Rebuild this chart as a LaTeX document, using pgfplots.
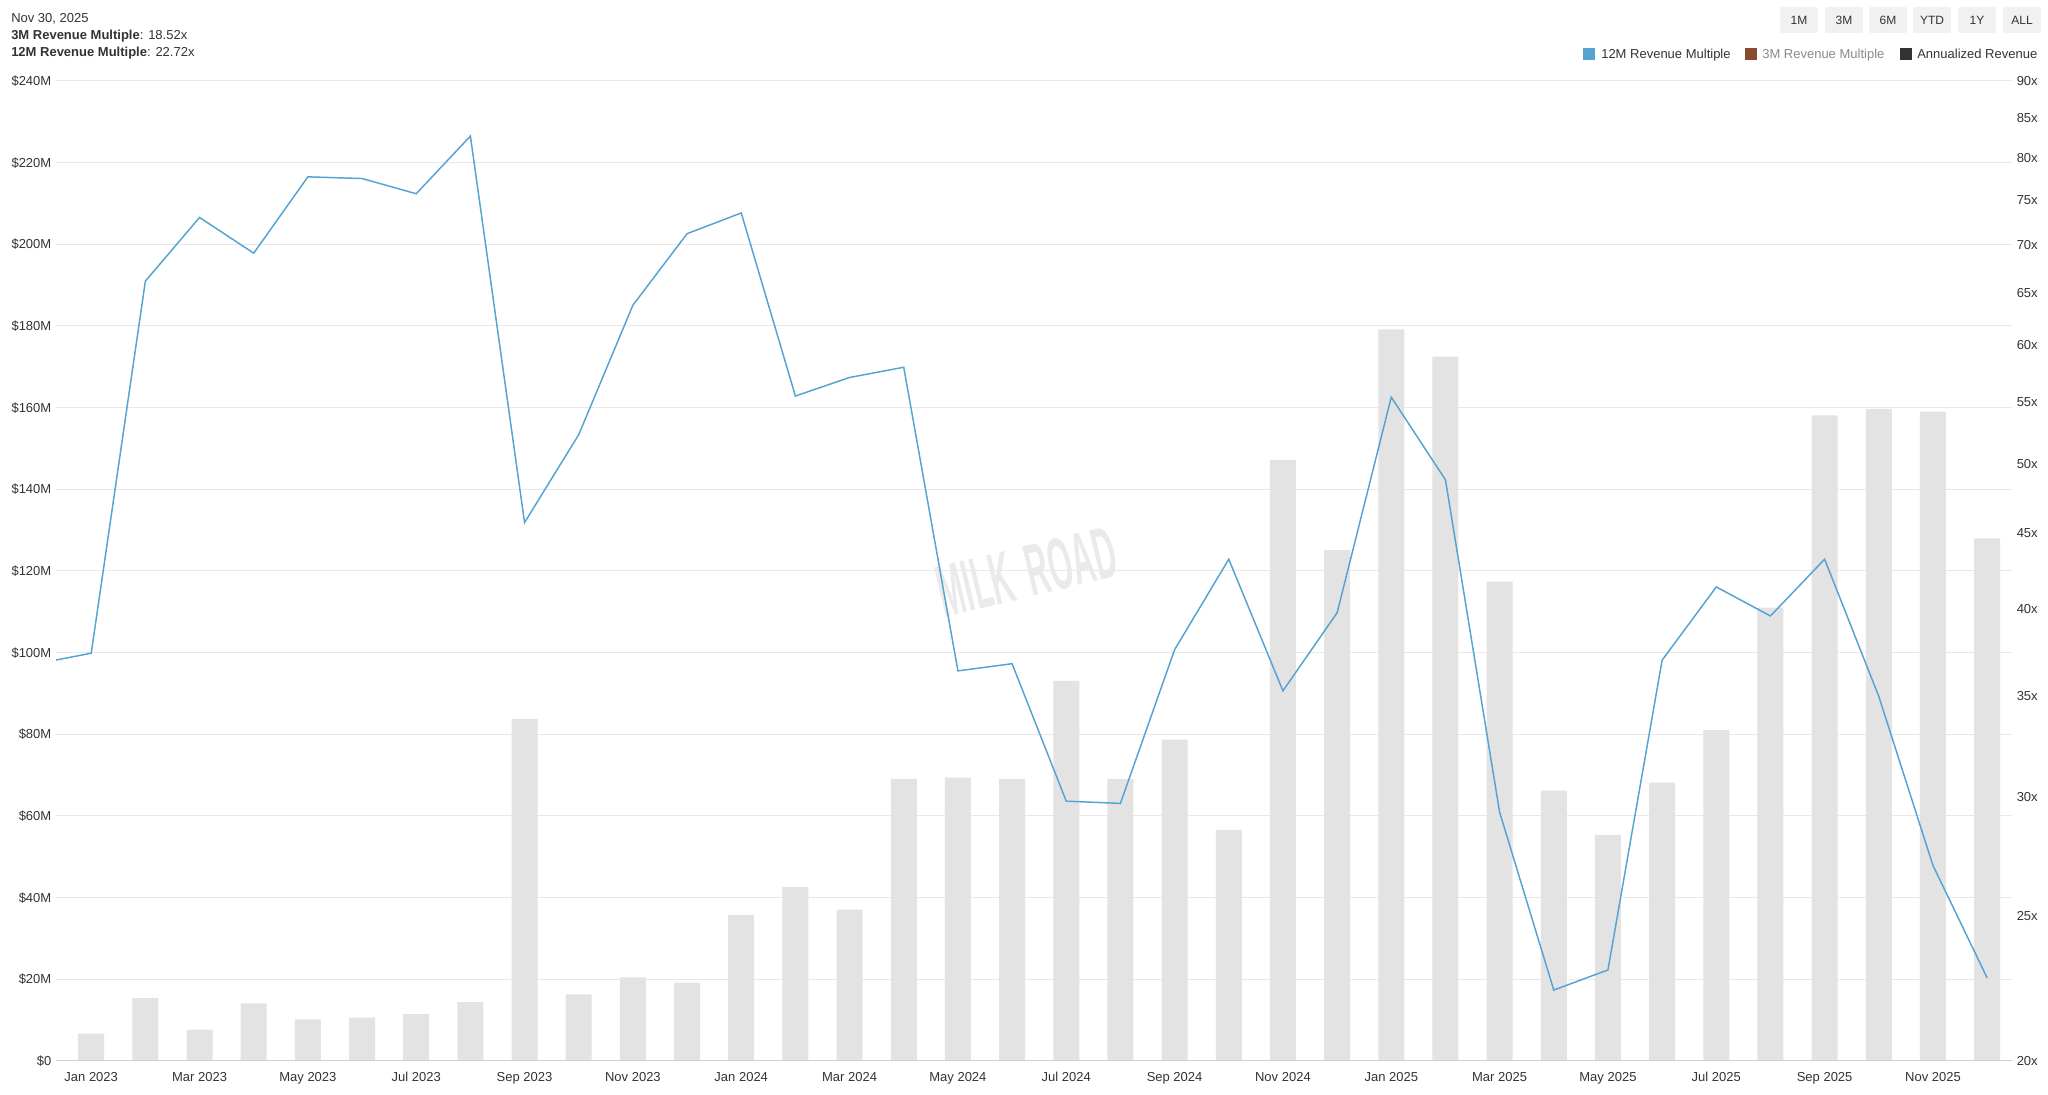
\documentclass[border=0pt]{standalone}
\usepackage{pgfplots}
\pgfplotsset{compat=1.18}
\usepackage{fontspec}
\setmainfont{Liberation Sans}
\definecolor{linecol}{HTML}{55A3D3}
\definecolor{barcol}{HTML}{E3E3E3}
\definecolor{gridcol}{HTML}{E8E8E8}
\definecolor{basecol}{HTML}{D0D0D0}
\definecolor{txt}{HTML}{333333}
\definecolor{btn}{HTML}{F1F1F1}
\definecolor{brownsq}{HTML}{8B4A2F}
\definecolor{darksq}{HTML}{333333}
\definecolor{greytxt}{HTML}{8A8A8A}
\definecolor{wm}{HTML}{EAEAEA}
\newcommand{\fs}{\fontsize{9.75}{11.7}\selectfont}
\begin{document}
\begin{tikzpicture}
\begin{scope}[x=0.75pt,y=0.75pt]
\fill[white] (0,0) rectangle (2048,1095);
\end{scope}
% bars axis (left)
\begin{axis}[
  at={(42pt,25.5pt)}, anchor=south west,
  scale only axis, width=1467pt, height=735pt,
  xmin=-0.65, xmax=35.46, ymin=0, ymax=240,
  ytick={0,20,...,240},
  yticklabels={\$0,\$20M,\$40M,\$60M,\$80M,\$100M,\$120M,\$140M,\$160M,\$180M,\$200M,\$220M,\$240M},
  xtick={0,2,...,34},
  xticklabels={Jan 2023,Mar 2023,May 2023,Jul 2023,Sep 2023,Nov 2023,Jan 2024,Mar 2024,May 2024,Jul 2024,Sep 2024,Nov 2024,Jan 2025,Mar 2025,May 2025,Jul 2025,Sep 2025,Nov 2025},
  ymajorgrids, grid style={gridcol, line width=0.75pt},
  axis line style={draw=none},
  major tick length=0pt,
  ticklabel style={font=\fs, text=txt},
  xticklabel style={yshift=-4pt, text height=7.5pt, text depth=2pt},
]
\addplot[ybar, bar width=0.48, fill=barcol, draw=none] coordinates {
(0,6.7) (1,15.4) (2,7.7) (3,14.1) (4,10.2) (5,10.6) (6,11.5) (7,14.4)
(8,83.8) (9,16.3) (10,20.5) (11,19.2) (12,35.8) (13,42.6) (14,37.1) (15,69.1)
(16,69.4) (17,69.1) (18,93.1) (19,69.1) (20,78.7) (21,56.6) (22,147.2) (23,125.1)
(24,179.2) (25,172.5) (26,117.4) (27,66.2) (28,55.4) (29,68.2) (30,81.0) (31,111.0)
(32,158.1) (33,159.7) (34,159.0) (35,128.0)
};
\draw[basecol, line width=1.5pt] (axis cs:-0.65,0) -- (axis cs:35.46,0);
\end{axis}
% watermark
\begin{scope}[x=0.75pt,y=0.75pt]
\node[rotate=13.5, text=wm, inner sep=0] at (1027,523)
  {\scalebox{0.42}[1]{\fontsize{55}{55}\selectfont\bfseries MILK\hspace{0.5em}ROAD}};
\end{scope}
% line axis (right, logarithmic via coordinate transformation)
\begin{axis}[
  at={(42pt,25.5pt)}, anchor=south west,
  scale only axis, width=1467pt, height=735pt,
  xmin=-0.65, xmax=35.46,
  y coord trafo/.code={\pgfmathparse{ln(#1)}},
  y coord inv trafo/.code={\pgfmathparse{exp(#1)}},
  ymin=20, ymax=90,
  axis line style={draw=none},
  xtick=\empty,
  ytick pos=right, yticklabel pos=right,
  ytick={20,25,30,35,40,45,50,55,60,65,70,75,80,85,90},
  yticklabels={20x,25x,30x,35x,40x,45x,50x,55x,60x,65x,70x,75x,80x,85x,90x},
  major tick length=0pt, minor tick num=0,
  ticklabel style={font=\fs, text=txt},
]
\addplot[linecol, line width=1.1pt, mark=none] coordinates {
(-1,36.8) (0,37.4) (1,66.2) (2,73.0) (3,69.1) (4,77.7) (5,77.5) (6,75.7) (7,82.7)
(8,45.7) (9,52.3) (10,63.8) (11,71.2) (12,73.5) (13,55.5) (14,57.1) (15,58.0)
(16,36.4) (17,36.8) (18,29.8) (19,29.7) (20,37.6) (21,43.2) (22,35.3) (23,39.8)
(24,55.4) (25,48.8) (26,29.3) (27,22.3) (28,23.0) (29,37.0) (30,41.4) (31,39.6)
(32,43.2) (33,35.0) (34,27.0) (35,22.72)
};
\end{axis}
\begin{scope}[x=0.75pt,y=0.75pt]
% header
\node[anchor=base west, inner sep=0, font=\fs, text=txt] at (11,1072.3) {Nov 30, 2025};
\node[anchor=base west, inner sep=0, font=\fs, text=txt] at (11,1055.6) {\textbf{3M Revenue Multiple}: 18.52x};
\node[anchor=base west, inner sep=0, font=\fs, text=txt] at (11,1038.8) {\textbf{12M Revenue Multiple}: 22.72x};
% buttons
\foreach \xa/\lab in {1780/1M,1825/3M,1869/6M,1913/YTD,1958/1Y,2003/ALL}{
  \fill[btn, rounded corners=1.5pt] (\xa,1062) rectangle ++(38,26);
  \node[font=\fontsize{9}{10}\selectfont, text=txt, inner sep=0] at (\xa+19,1074.5) {\lab};
}
% legend
\fill[linecol] (1583,1035) rectangle (1595,1047);
\node[anchor=base west, inner sep=0, font=\fs, text=txt] at (1601,1036.4) {12M Revenue Multiple};
\fill[brownsq] (1745,1035) rectangle (1757,1047);
\node[anchor=base west, inner sep=0, font=\fs, text=greytxt] at (1762,1036.4) {3M Revenue Multiple};
\fill[darksq] (1900,1035) rectangle (1912,1047);
\node[anchor=base west, inner sep=0, font=\fs, text=txt] at (1917,1036.4) {Annualized Revenue};
\end{scope}
\end{tikzpicture}
\end{document}
